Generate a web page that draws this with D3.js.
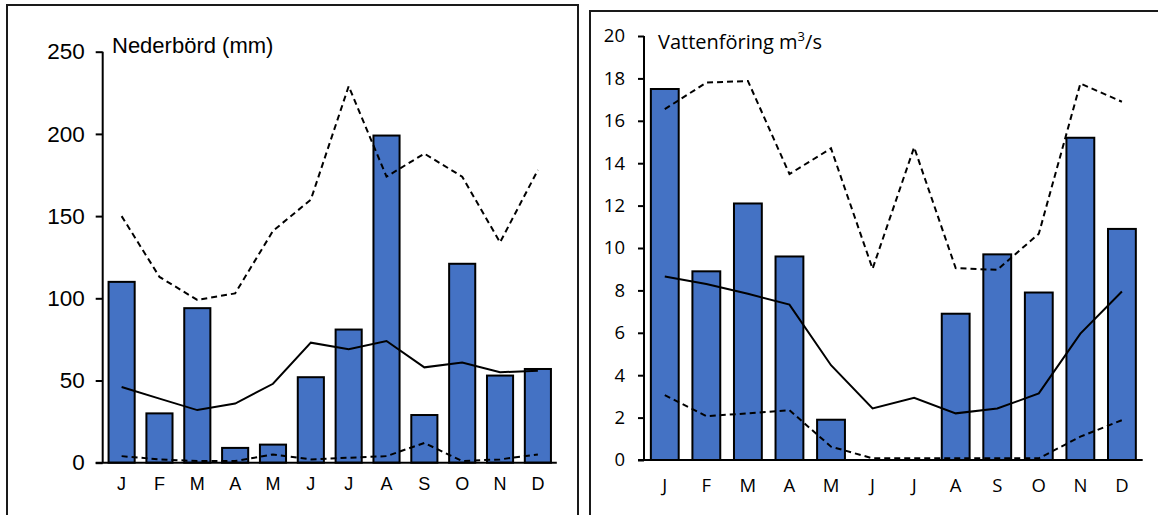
<!DOCTYPE html>
<html>
<head>
<meta charset="utf-8">
<script src="https://cdn.jsdelivr.net/npm/d3@7"></script>
<style>
    body { margin: 0; background: #fff; }
    svg { display: block; }
</style>
</head>
<body>
<div id="main"></div>
<script>
const W = 1158;
const H = 515;

const months = ["J", "F", "M", "A", "M", "J", "J", "A", "S", "O", "N", "D"];

// nederbörd (mm)
const precipMonth = [110, 30, 94, 9, 11, 52, 81, 199, 29, 121, 53, 57];
const precipMean = [46, 39, 32, 36, 48, 73, 69, 74, 58, 61, 55, 56];
const precipMax = [150, 113, 99, 103, 141, 160, 229, 174, 188, 174, 134, 178];
const precipMin = [4, 2, 1, 1, 5, 2, 3, 4, 12, 1, 2, 5];
const precipTicks = [0, 50, 100, 150, 200, 250];

// vattenföring (m3/s)
const flowMonth = [17.5, 8.9, 12.1, 9.6, 1.9, 0, 0, 6.9, 9.7, 7.9, 15.2, 10.9];
const flowMean = [8.66, 8.3, 7.84, 7.33, 4.47, 2.43, 2.93, 2.2, 2.43, 3.14, 5.96, 7.95];
const flowMax = [16.55, 17.8, 17.88, 13.49, 14.7, 9.02, 14.75, 9.05, 8.97, 10.67, 17.76, 16.9];
const flowMin = [3.06, 2.07, 2.2, 2.35, 0.63, 0.08, 0.08, 0.08, 0.08, 0.08, 1.1, 1.88];
const flowTicks = [0, 2, 4, 6, 8, 10, 12, 14, 16, 18, 20];

var makeChart = function (svg, c) {
    var g = svg.append("g");

    // frame round the panel
    g.append("rect")
        .attr("x", c.frame[0])
        .attr("y", c.frame[1])
        .attr("width", c.frame[2])
        .attr("height", c.frame[3])
        .attr("fill", "none")
        .attr("stroke", "#1a1a1a")
        .attr("stroke-width", 2);

    var x = d3.scaleBand()
        .domain(d3.range(months.length))
        .range([c.left, c.right])
        .paddingInner(c.pad)
        .paddingOuter(c.pad / 2);
    var y = d3.scaleLinear()
        .domain([0, c.yMax])
        .range([c.bottom, c.top]);

    // bars
    g.append("g")
        .selectAll("rect")
        .data(c.bars)
        .enter()
        .append("rect")
        .attr("x", (d, i) => x(i))
        .attr("y", (d) => y(d))
        .attr("width", x.bandwidth())
        .attr("height", (d) => c.bottom - y(d))
        .attr("fill", "#4472C4")
        .attr("stroke", "#000")
        .attr("stroke-width", 2);

    // axes
    var yAxis = g.append("g")
        .attr("transform", "translate(" + c.left + ",0)")
        .call(d3.axisLeft(y).tickValues(c.ticks).tickSize(c.tickLen).tickPadding(c.tickPad));
    yAxis.select(".domain")
        .attr("d", "M0," + c.bottom + "V" + c.top)
        .attr("stroke", "#000")
        .attr("stroke-width", 2);
    yAxis.selectAll(".tick line")
        .attr("stroke", "#000")
        .attr("stroke-width", 2);
    yAxis.selectAll(".tick text")
        .attr("font-family", c.font)
        .attr("font-size", c.tickSize)
        .attr("fill", "#000");

    g.append("line")
        .attr("x1", c.left - c.tickLen)
        .attr("x2", c.right)
        .attr("y1", c.bottom)
        .attr("y2", c.bottom)
        .attr("stroke", "#000")
        .attr("stroke-width", 2);

    g.append("g")
        .selectAll("text")
        .data(months)
        .enter()
        .append("text")
        .attr("x", (d, i) => x(i) + x.bandwidth() / 2)
        .attr("y", c.monthY)
        .attr("text-anchor", "middle")
        .attr("font-family", c.font)
        .attr("font-size", c.monthSize)
        .text((d) => d);

    // mean, max and min lines
    var line = d3.line()
        .x((d, i) => x(i) + x.bandwidth() / 2)
        .y((d) => y(d));
    [[c.max, c.dash], [c.min, c.dash], [c.mean, null]].forEach(function (s) {
        g.append("path")
            .datum(s[0])
            .attr("d", line)
            .attr("fill", "none")
            .attr("stroke", "#000")
            .attr("stroke-width", 2)
            .attr("stroke-dasharray", s[1]);
    });

    c.title(g);
};

var createViz = function () {
    var svg = d3.select("#main").append("svg")
        .attr("width", W)
        .attr("height", H);

    makeChart(svg, {
        frame: [7, 5, 571, 530],
        left: 102.7, right: 556.8, top: 51.7, bottom: 462.7,
        pad: 0.31, yMax: 250, ticks: precipTicks,
        tickLen: 7, tickPad: 11, tickSize: 22.5, monthSize: 18, monthY: 490,
        font: "'Liberation Sans', Arial, sans-serif",
        bars: precipMonth, mean: precipMean, max: precipMax, min: precipMin,
        dash: "6,4",
        title: function (g) {
            g.append("text")
                .attr("x", 112)
                .attr("y", 53)
                .attr("font-family", "'Liberation Sans', Arial, sans-serif")
                .attr("font-size", 22)
                .text("Nederbörd (mm)");
        }
    });

    makeChart(svg, {
        frame: [590, 11, 600, 530],
        left: 644, right: 1142.7, top: 36, bottom: 460,
        pad: 0.33, yMax: 20, ticks: flowTicks,
        tickLen: 6, tickPad: 13, tickSize: 18.5, monthSize: 18.5, monthY: 492,
        font: "'Open Sans', sans-serif",
        bars: flowMonth, mean: flowMean, max: flowMax, min: flowMin,
        dash: "6,4",
        title: function (g) {
            var t = g.append("text")
                .attr("x", 658)
                .attr("y", 48.5)
                .attr("font-family", "'Open Sans', sans-serif")
                .attr("font-size", 20)
                .text("Vattenföring m");
            t.append("tspan")
                .attr("dy", -8)
                .attr("font-size", 13)
                .text("3");
            t.append("tspan")
                .attr("dy", 8)
                .text("/s");
        }
    });
};

createViz();
</script>
</body>
</html>
